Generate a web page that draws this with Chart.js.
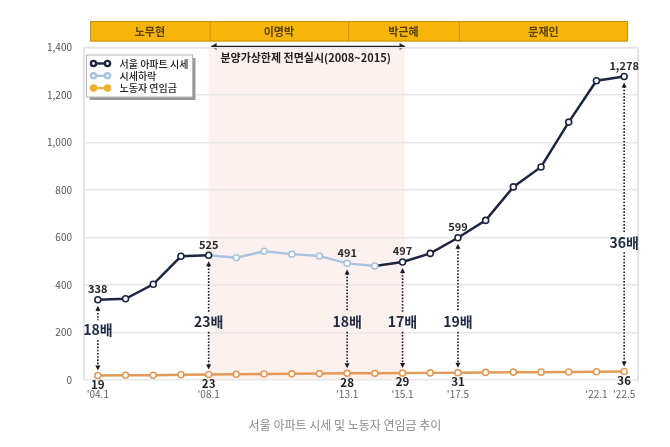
<!DOCTYPE html>
<html><head><meta charset="utf-8">
<script src="https://cdn.jsdelivr.net/npm/chart.js@4"></script>
<style>
html,body{margin:0;padding:0;background:#fff;}
#wrap{position:relative;width:670px;height:447px;}
#caption{position:absolute;left:0;width:690px;top:416px;text-align:center;font:12px "Noto Sans CJK KR",sans-serif;color:#8a8a8a;}
</style></head>
<body>
<div id="wrap"><canvas id="c"></canvas><div id="caption">서울 아파트 시세 및 노동자 연임금 추이</div></div>
<script>
const categories = ["'04.1","'05.1","'06.1","'07.1","'08.1","'09.1","'10.1","'11.1","'12.1","'13.1","'14.1","'15.1","'16.1","'17.5","'18.1","'19.1","'20.1","'21.1","'22.1","'22.5"];
const shownTicks = ["'04.1","'08.1","'13.1","'15.1","'17.5","'22.1","'22.5"];
const seoulPrice = [338,342,403,521,525,515,542,530,522,491,480,497,533,599,672,813,897,1086,1260,1278];
const workerWage = [19,20,20,22,23,24,25,26,27,28,28,29,30,31,32,33,33,34,35,36];
const legendLabels = ["서울 아파트 시세","시세하락","노동자 연임금"];
const presidents = ["노무현","이명박","박근혜","문재인"];
const presidentStart = ["'04.1","'08.1","'13.1","'17.5"];
const declineRange = ["'08.1","'14.1"];
const policyRange = ["'08.1","'15.1"];
const policyText = "분양가상한제 전면실시(2008~2015)";
const markedPoints = ["'04.1","'08.1","'13.1","'15.1","'17.5","'22.5"];
const ratioLabels = ["18배","23배","18배","17배","19배","36배"];
const ratioLabelLevel = [210,245,245,245,245,580];

const DARK = '#1c2541', LIGHT = '#a9c2de', ORANGE = '#e39a58', LEG_OR = '#f0b22e';
const KFONT = '"Noto Sans CJK KR", "Noto Sans", sans-serif';
const dStart = categories.indexOf(declineRange[0]), dEnd = categories.indexOf(declineRange[1]);
const inDecline = i => i > dStart && i <= dEnd;

const overlay = {
  id: 'overlay',
  beforeDraw(chart) {
    const {ctx, chartArea: a, scales: {x}} = chart;
    ctx.save();
    const p0 = x.getPixelForValue(categories.indexOf(policyRange[0]));
    const p1 = x.getPixelForValue(categories.indexOf(policyRange[1]));
    ctx.fillStyle = '#fdf1ef';
    ctx.fillRect(p0, a.top, p1 - p0 + 2, a.bottom - a.top);
    ctx.strokeStyle = '#dcdcdc'; ctx.lineWidth = 1.5;
    ctx.beginPath();
    ctx.moveTo(a.left, a.bottom); ctx.lineTo(a.left, a.top); ctx.lineTo(a.right, a.top); ctx.lineTo(a.right, a.bottom + 2);
    ctx.stroke();
    const bl = a.left + 6, br = a.right - 10, bt = 21, bb = 41.5;
    ctx.fillStyle = '#f7b50c';
    ctx.fillRect(bl, bt, br - bl, bb - bt);
    ctx.strokeStyle = '#c98f12'; ctx.lineWidth = 1;
    ctx.strokeRect(bl + 0.5, bt + 0.5, br - bl - 1, bb - bt - 1);
    const starts = presidentStart.map((s, k) => k === 0 ? bl : x.getPixelForValue(categories.indexOf(s)) + 1);
    ctx.font = 'bold 11px ' + KFONT; ctx.fillStyle = '#5a4207'; ctx.textAlign = 'center'; ctx.textBaseline = 'middle';
    presidents.forEach((p, k) => {
      const s = starts[k], e = k < presidents.length - 1 ? starts[k + 1] : br;
      if (k > 0) { ctx.beginPath(); ctx.moveTo(s + 0.5, bt); ctx.lineTo(s + 0.5, bb); ctx.stroke(); }
      ctx.fillText(p, (s + e) / 2, (bt + bb) / 2 + 0.5);
    });
    const ay = a.top - 1;
    ctx.strokeStyle = '#222'; ctx.fillStyle = '#222'; ctx.lineWidth = 1.5;
    ctx.beginPath(); ctx.moveTo(p0 + 5, ay); ctx.lineTo(p1 - 1, ay); ctx.stroke();
    ctx.beginPath(); ctx.moveTo(p0 + 2, ay); ctx.lineTo(p0 + 8, ay - 3.5); ctx.lineTo(p0 + 8, ay + 3.5); ctx.fill();
    ctx.beginPath(); ctx.moveTo(p1 + 3, ay); ctx.lineTo(p1 - 3, ay - 3.5); ctx.lineTo(p1 - 3, ay + 3.5); ctx.fill();
    ctx.font = 'bold 11px ' + KFONT; ctx.fillStyle = '#222';
    ctx.fillText(policyText, (p0 + p1) / 2, a.top + 10);
    ctx.restore();
  },
  afterDatasetsDraw(chart) {
    const {ctx, chartArea: a, scales: {x, y}} = chart;
    ctx.save();
    markedPoints.forEach((c, k) => {
      const i = categories.indexOf(c);
      const px = x.getPixelForValue(i);
      const yt = y.getPixelForValue(seoulPrice[i]) + 6;
      const yb = y.getPixelForValue(workerWage[i]) - 5;
      const yl = y.getPixelForValue(ratioLabelLevel[k]);
      ctx.strokeStyle = '#1a1a2a'; ctx.fillStyle = '#1a1a2a'; ctx.lineWidth = 1.6; ctx.setLineDash([1.6, 1.6]);
      ctx.beginPath(); ctx.moveTo(px, yt + 4); ctx.lineTo(px, yl - 10); ctx.moveTo(px, yl + 10); ctx.lineTo(px, yb - 4); ctx.stroke();
      ctx.setLineDash([]);
      ctx.beginPath(); ctx.moveTo(px, yt); ctx.lineTo(px - 2.5, yt + 5); ctx.lineTo(px + 2.5, yt + 5); ctx.fill();
      ctx.beginPath(); ctx.moveTo(px, yb); ctx.lineTo(px - 2.5, yb - 5); ctx.lineTo(px + 2.5, yb - 5); ctx.fill();
      ctx.font = 'bold 14px ' + KFONT; ctx.fillStyle = '#1f2a44'; ctx.textAlign = 'center'; ctx.textBaseline = 'middle';
      ctx.fillText(ratioLabels[k], px, yl);
      ctx.font = '600 11px ' + KFONT; ctx.fillStyle = '#2a2a2a';
      ctx.fillText(seoulPrice[i].toLocaleString('en-US'), px, y.getPixelForValue(seoulPrice[i]) - 11);
      ctx.font = 'bold 11.5px ' + KFONT; ctx.fillStyle = '#222';
      ctx.fillText(String(workerWage[i]), px, y.getPixelForValue(workerWage[i]) + 9);
    });
    const lx = a.left + 2.5, ly = a.top + 7.5, lw = 106, lh = 42;
    ctx.fillStyle = '#9a9a9a'; ctx.fillRect(lx + 3, ly + 3, lw, lh);
    ctx.fillStyle = '#fff'; ctx.fillRect(lx, ly, lw, lh);
    ctx.strokeStyle = '#b5b5b5'; ctx.lineWidth = 1; ctx.strokeRect(lx, ly, lw, lh);
    const cols = [DARK, LIGHT, LEG_OR];
    legendLabels.forEach((t, k) => {
      const yy = ly + 8.5 + k * 12.3;
      ctx.strokeStyle = cols[k]; ctx.lineWidth = 2.4;
      ctx.beginPath(); ctx.moveTo(lx + 7, yy); ctx.lineTo(lx + 21, yy); ctx.stroke();
      ctx.fillStyle = k === 2 ? cols[k] : '#fff';
      [lx + 7, lx + 21].forEach(cx => { ctx.beginPath(); ctx.arc(cx, yy, 2.6, 0, Math.PI * 2); ctx.fill(); ctx.stroke(); });
      ctx.fillStyle = '#222'; ctx.font = '500 10px ' + KFONT; ctx.textAlign = 'left'; ctx.textBaseline = 'middle';
      ctx.fillText(t, lx + 33, yy + 0.5);
    });
    ctx.restore();
  }
};

new Chart(document.getElementById('c'), {
  type: 'line',
  data: {
    labels: categories,
    datasets: [
      {
        label: legendLabels[2], data: workerWage, borderColor: ORANGE, borderWidth: 2.5,
        pointRadius: 3, pointBorderWidth: 1.6, pointBackgroundColor: '#fff', pointBorderColor: ORANGE, tension: 0
      },
      {
        label: legendLabels[0], data: seoulPrice, borderWidth: 2.5, tension: 0,
        borderColor: DARK,
        segment: { borderColor: ctx => (ctx.p0DataIndex >= dStart && ctx.p1DataIndex <= dEnd) ? LIGHT : DARK },
        pointRadius: 3, pointBorderWidth: 1.6, pointBackgroundColor: '#fff',
        pointBorderColor: seoulPrice.map((v, i) => inDecline(i) ? LIGHT : DARK)
      }
    ]
  },
  options: {
    responsive: true, maintainAspectRatio: false, animation: false,
    layout: { padding: { top: 47.5, left: 0, right: 32, bottom: 0 } },
    plugins: { legend: { display: false }, tooltip: { enabled: false } },
    scales: {
      x: {
        offset: true,
        grid: { display: false, drawTicks: false },
        border: { display: false },
        afterFit: s => { s.height = 67; },
        ticks: {
          autoSkip: false, maxRotation: 0, padding: 8, color: '#666',
          font: { size: 10, family: KFONT },
          callback: (v, i) => shownTicks.includes(categories[i]) ? categories[i] : ''
        }
      },
      y: {
        min: 0, max: 1400,
        afterFit: s => { s.width = 84; },
        grid: { color: '#e8e8e8', lineWidth: 1.5, drawTicks: false },
        border: { display: false },
        ticks: { stepSize: 200, padding: 12, color: '#555', font: { size: 10, family: KFONT },
          callback: v => v.toLocaleString('en-US') }
      }
    }
  },
  plugins: [overlay]
});
</script>
</body></html>
